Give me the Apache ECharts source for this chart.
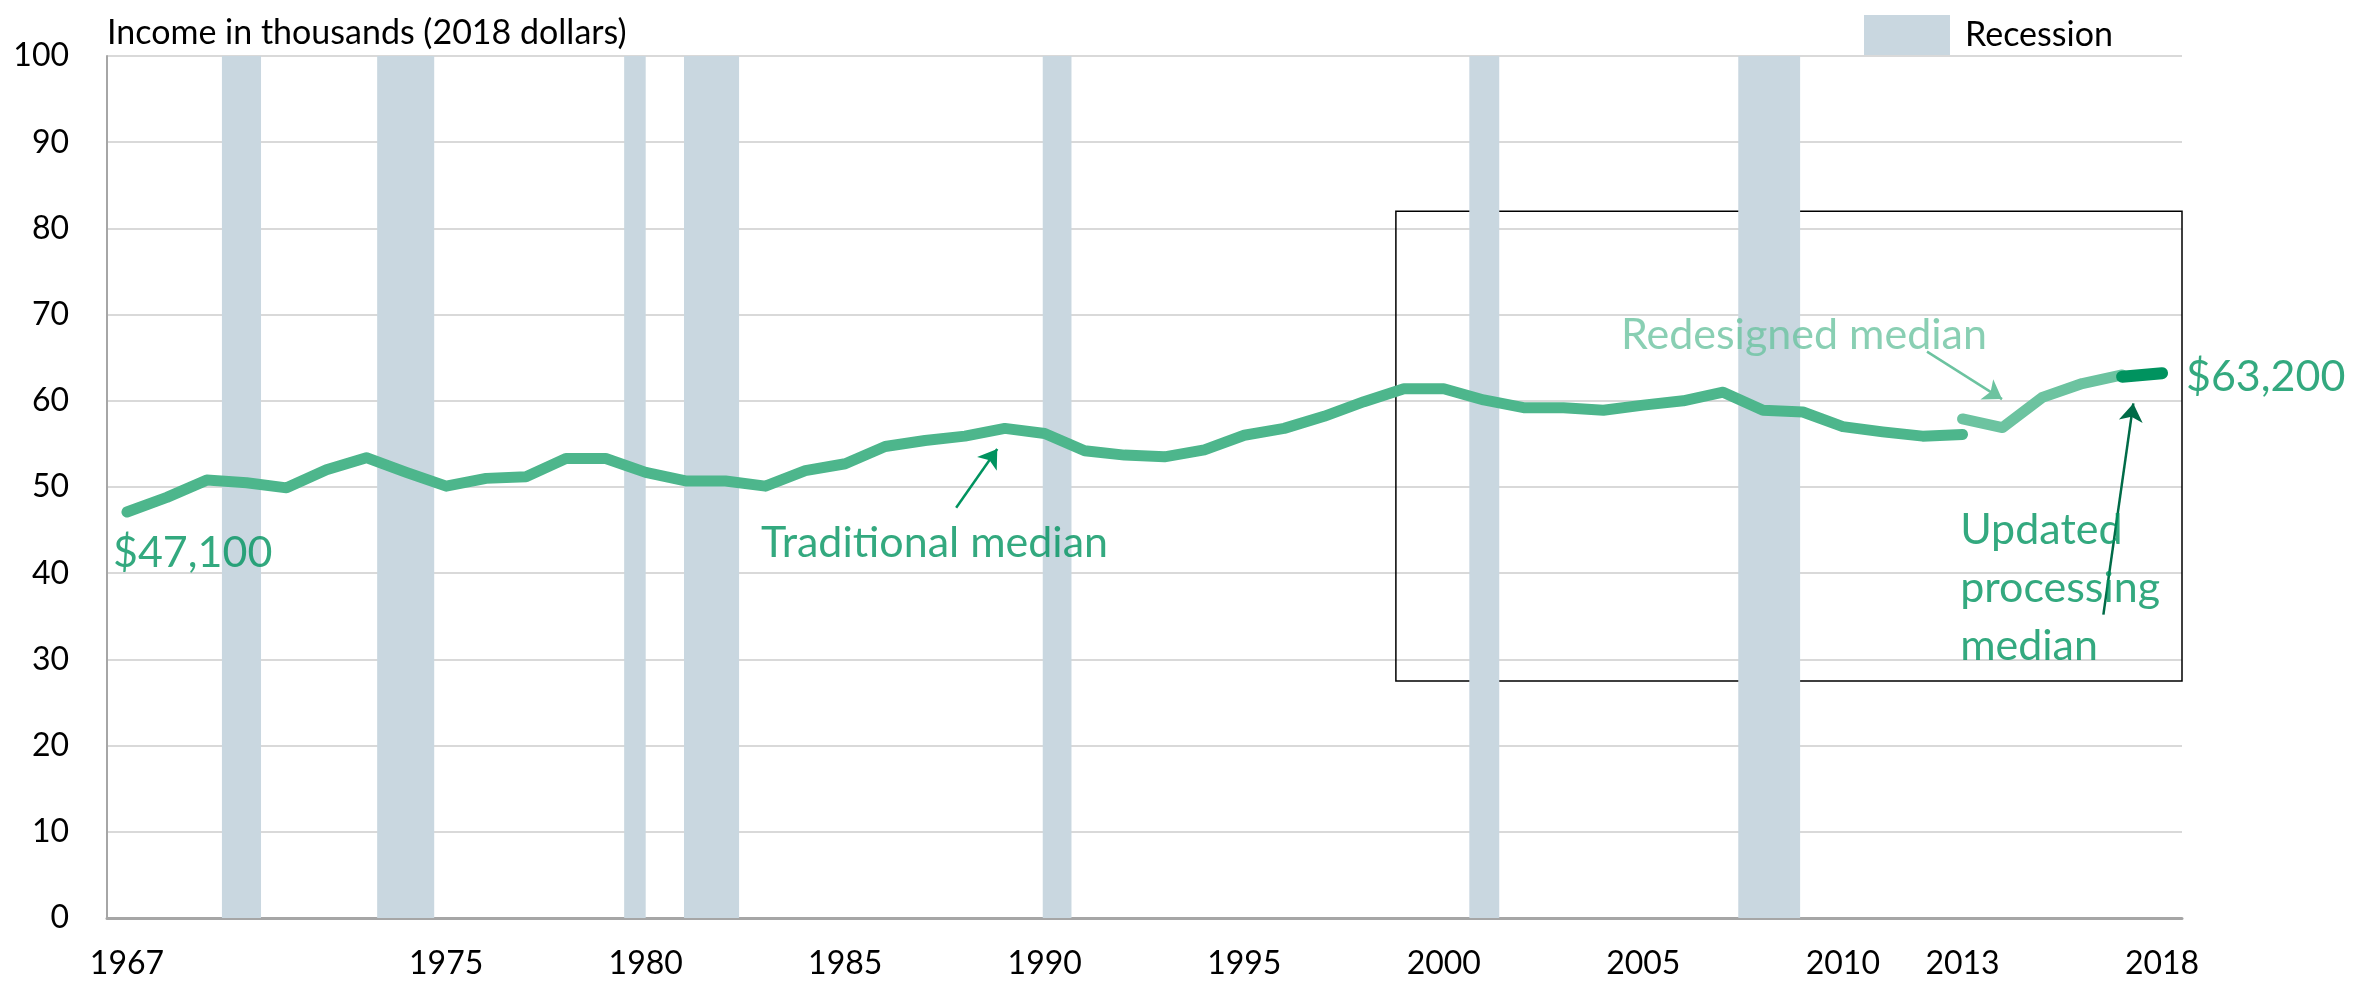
<!DOCTYPE html>
<html lang="en">
<head>
<meta charset="UTF-8">
<title>Median household income</title>
<script src="https://cdn.jsdelivr.net/npm/echarts@6/dist/echarts.min.js"></script>
<style>
html, body { margin: 0; padding: 0; background: #fff; }
#main { width: 2364px; height: 986px; }
</style>
</head>
<body>
<div id="main"></div>
<script>
// categories
var years = ['1967','1968','1969','1970','1971','1972','1973','1974','1975','1976',
	'1977','1978','1979','1980','1981','1982','1983','1984','1985','1986',
	'1987','1988','1989','1990','1991','1992','1993','1994','1995','1996',
	'1997','1998','1999','2000','2001','2002','2003','2004','2005','2006',
	'2007','2008','2009','2010','2011','2012','2013','2014','2015','2016',
	'2017','2018'];
var tickYears = ['1967','1975','1980','1985','1990','1995','2000','2005','2010','2013','2018'];

// income in thousands (2018 dollars)
var traditional = [47.1, 48.8, 50.8, 50.5, 49.9, 52.0, 53.4, 51.7, 50.1, 51.0,   // 1967-1976
	51.2, 53.3, 53.3, 51.7, 50.7, 50.7, 50.1, 51.9, 52.7, 54.7,                     // 1977-1986
	55.4, 55.9, 56.8, 56.2, 54.2, 53.7, 53.5, 54.3, 56.0, 56.8,                     // 1987-1996
	58.2, 59.9, 61.4, 61.4, 60.1, 59.2, 59.2, 58.9, 59.5, 60.0,                     // 1997-2006
	61.0, 58.9, 58.7, 57.0, 56.4, 55.9, 56.1];                                      // 2007-2013
var redesigned = [57.9, 56.9, 60.4, 62.0, 63.0];   // 2013-2017
var updated = [62.8, 63.2];                         // 2017-2018

// recession periods, start/end as fractional years
var recessions = [[1969.88, 1970.86], [1973.77, 1975.2], [1979.96, 1980.5], [1981.46, 1982.84],
	[1990.45, 1991.17], [2001.14, 2001.89], [2007.88, 2009.43]];

function place(vals, firstYear) {
	return years.map(function (y) {
		var i = +y - firstYear;
		return (i >= 0 && i < vals.length) ? vals[i] : null;
	});
}

var font = 'Lato';
var darkGreen = '#00935f';
var midGreen = '#4db68c';
var lightGreen = '#6cc3a0';
var recessionColor = '#c9d7e0';

// text notes, placed in data coordinates of the hidden year axis
var notes = [
	{ text: '$47,100', x: 1967.15, y: 42.3, color: darkGreen },
	{ text: 'Traditional median', x: 1983.39, y: 43.5, color: darkGreen },
	{ text: 'Redesigned median', x: 2004.94, y: 67.6, color: lightGreen },
	{ text: '$63,200', x: 2019.1, y: 62.8, color: darkGreen },
	{ text: 'Updated\nprocessing\nmedian', x: 2013.44, y: 38.3, color: darkGreen }
];
var arrows = [
	{ from: [1988.28, 47.6], to: [1989.31, 54.4], color: darkGreen },
	{ from: [2012.61, 65.7], to: [2014.49, 60.2], color: lightGreen },
	{ from: [2017.03, 35.2], to: [2017.78, 59.7], color: '#006b47' }
];

var chart = echarts.init(document.getElementById('main'));

var option = {
	animation: false,
	textStyle: { fontFamily: font },
	grid: { left: 107, right: 182, top: 56, bottom: 68, containLabel: false },
	legend: {
		left: 1859,
		top: 10,
		itemWidth: 86,
		itemHeight: 40,
		textStyle: { fontSize: 34, color: '#000', fontFamily: font, padding: [0, 0, 0, 10] },
		data: [{ name: 'Recession', icon: 'rect' }]
	},
	xAxis: [
		{
			type: 'category',
			data: years,
			boundaryGap: true,
			axisLine: { lineStyle: { color: '#a6a6a6', width: 3 } },
			axisTick: { alignWithLabel: true, inside: true, interval: 0, length: 9, lineStyle: { color: '#a6a6a6', width: 2 } },
			axisLabel: {
				interval: 0,
				margin: 30,
				fontSize: 32,
				color: '#000',
				formatter: function (v) { return tickYears.indexOf(v) >= 0 ? v : ''; }
			},
			splitLine: { show: false }
		},
		{ type: 'value', min: 1967, max: 2019, show: false }
	],
	yAxis: {
		type: 'value',
		min: 0,
		max: 100,
		interval: 10,
		name: 'Income in thousands (2018 dollars)',
		nameLocation: 'end',
		nameGap: 23,
		nameTextStyle: { align: 'left', verticalAlign: 'middle', fontSize: 34, color: '#000', fontFamily: font },
		axisLine: { show: true, lineStyle: { color: '#a6a6a6', width: 2 } },
		axisTick: { show: false },
		axisLabel: { fontSize: 32, color: '#000', margin: 38 },
		splitLine: { lineStyle: { color: '#d9d9d9', width: 2 } }
	},
	series: [
		{
			name: 'Recession',
			type: 'custom',
			xAxisIndex: 1,
			itemStyle: { color: recessionColor },
			encode: { x: [0, 1] },
			data: recessions,
			z: 1,
			renderItem: function (params, api) {
				var a = api.coord([api.value(0), 100]);
				var b = api.coord([api.value(1), 0]);
				return {
					type: 'rect',
					shape: { x: a[0], y: a[1], width: b[0] - a[0], height: b[1] - a[1] },
					style: { fill: recessionColor }
				};
			}
		},
		{
			name: 'Traditional median',
			type: 'line',
			data: place(traditional, 1967),
			showSymbol: false,
			connectNulls: false,
			lineStyle: { color: midGreen, width: 11, cap: 'round', join: 'round' },
			z: 3
		},
		{
			name: 'Redesigned median',
			type: 'line',
			data: place(redesigned, 2013),
			showSymbol: false,
			lineStyle: { color: lightGreen, width: 11, cap: 'round', join: 'round' },
			z: 3
		},
		{
			name: 'Updated processing median',
			type: 'line',
			data: place(updated, 2017),
			showSymbol: false,
			lineStyle: { color: darkGreen, width: 12, cap: 'round', join: 'round' },
			z: 4
		},
		{
			name: 'notes',
			type: 'scatter',
			xAxisIndex: 1,
			clip: false,
			symbolSize: 0,
			silent: true,
			z: 6,
			data: notes.map(function (n) {
				return {
					value: [n.x, n.y],
					label: {
						show: true,
						position: 'right',
						distance: 0,
						formatter: n.text,
						color: n.color,
						fontSize: 43,
						lineHeight: 58,
						fontFamily: font
					}
				};
			}),
			markLine: {
				silent: true,
				symbol: ['none', 'arrow'],
				symbolSize: 18,
				label: { show: false },
				data: arrows.map(function (a) {
					return [
						{ coord: a.from, lineStyle: { color: a.color, width: 2.5, type: 'solid' } },
						{ coord: a.to }
					];
				})
			},
			markArea: {
				silent: true,
				data: [[
					{ coord: [1999.3, 82], itemStyle: { color: 'rgba(0,0,0,0)', borderColor: '#000', borderWidth: 1.5 } },
					{ coord: [2019, 27.5] }
				]]
			}
		}
	]
};

chart.setOption(option);
</script>
</body>
</html>
